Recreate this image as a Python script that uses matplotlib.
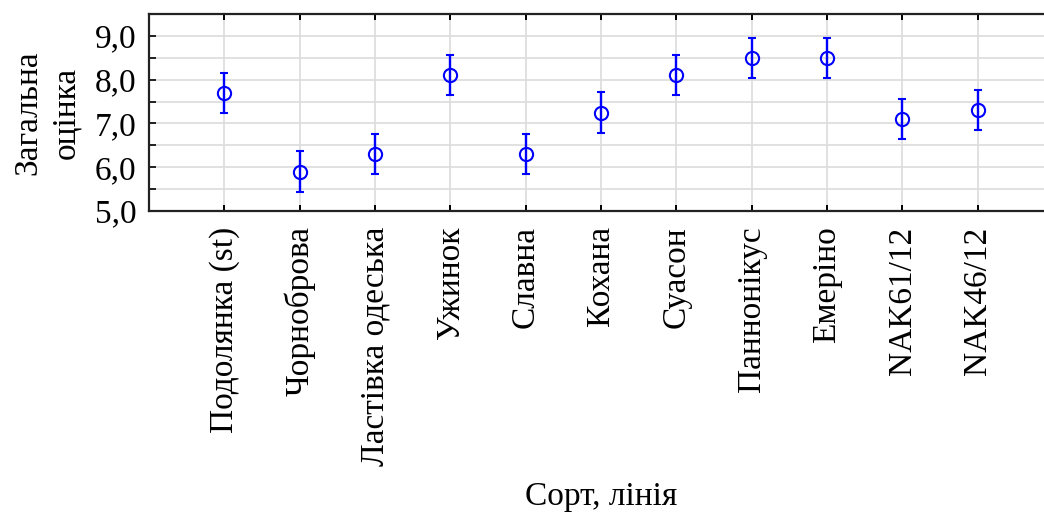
import matplotlib
matplotlib.use("Agg")
import matplotlib.pyplot as plt
from matplotlib.ticker import MultipleLocator

plt.rcParams['font.family'] = ['Liberation Serif', 'DejaVu Serif']

varieties = ["Подолянка (st)", "Чорноброва", "Ластівка одеська", "Ужинок",
             "Славна", "Кохана", "Суасон", "Паннонікус", "Емеріно",
             "NAK61/12", "NAK46/12"]
scores = [7.70, 5.90, 6.30, 8.10, 6.30, 7.25, 8.10, 8.50, 8.50, 7.10, 7.30]
errors = [0.46, 0.46, 0.46, 0.46, 0.46, 0.46, 0.46, 0.46, 0.46, 0.46, 0.46]
y_ticks = [5.0, 6.0, 7.0, 8.0, 9.0]
y_tick_labels = ["5,0", "6,0", "7,0", "8,0", "9,0"]

fig = plt.figure(figsize=(10.44, 5.14), dpi=100)
ax = fig.add_axes([149 / 1044, 1 - 211 / 514, (1053 - 149) / 1044, (211 - 14) / 514])

x = list(range(len(varieties)))
ax.errorbar(x, scores, yerr=errors, fmt='o', color='#0000ff', ecolor='#0000ff',
            markerfacecolor='none', markeredgecolor='#0000ff', markersize=9.5,
            markeredgewidth=1.5, elinewidth=1.7, capsize=2.8, capthick=1.7, zorder=3)

ax.set_xlim(-1, 11)
ax.set_ylim(5.0, 9.5)
ax.set_xticks(x)
ax.set_xticklabels(varieties, rotation=90, fontsize=24)
ax.set_yticks(y_ticks)
ax.set_yticklabels(y_tick_labels, fontsize=24)
ax.yaxis.set_minor_locator(MultipleLocator(0.5))

ax.grid(True, which='both', color='#dcdcdc', linewidth=1.2, zorder=0)
ax.set_axisbelow(True)

for side in ('left', 'bottom', 'top'):
    ax.spines[side].set_linewidth(1.6)
    ax.spines[side].set_color('#222222')
ax.spines['right'].set_visible(False)

ax.tick_params(axis='y', which='both', direction='in', length=5, width=1.2, pad=9)
ax.tick_params(axis='x', which='both', direction='in', length=4, width=1.4,
               top=True, pad=11)

ax.set_ylabel("Загальна\nоцінка", fontsize=24, labelpad=10, linespacing=1.3)

# x-axis title sits below the rotated category labels
fig.text(601 / 1044, 1 - 497 / 514, "Сорт, лінія", fontsize=24,
         ha='center', va='center')

fig.savefig("out.png", dpi=100)
